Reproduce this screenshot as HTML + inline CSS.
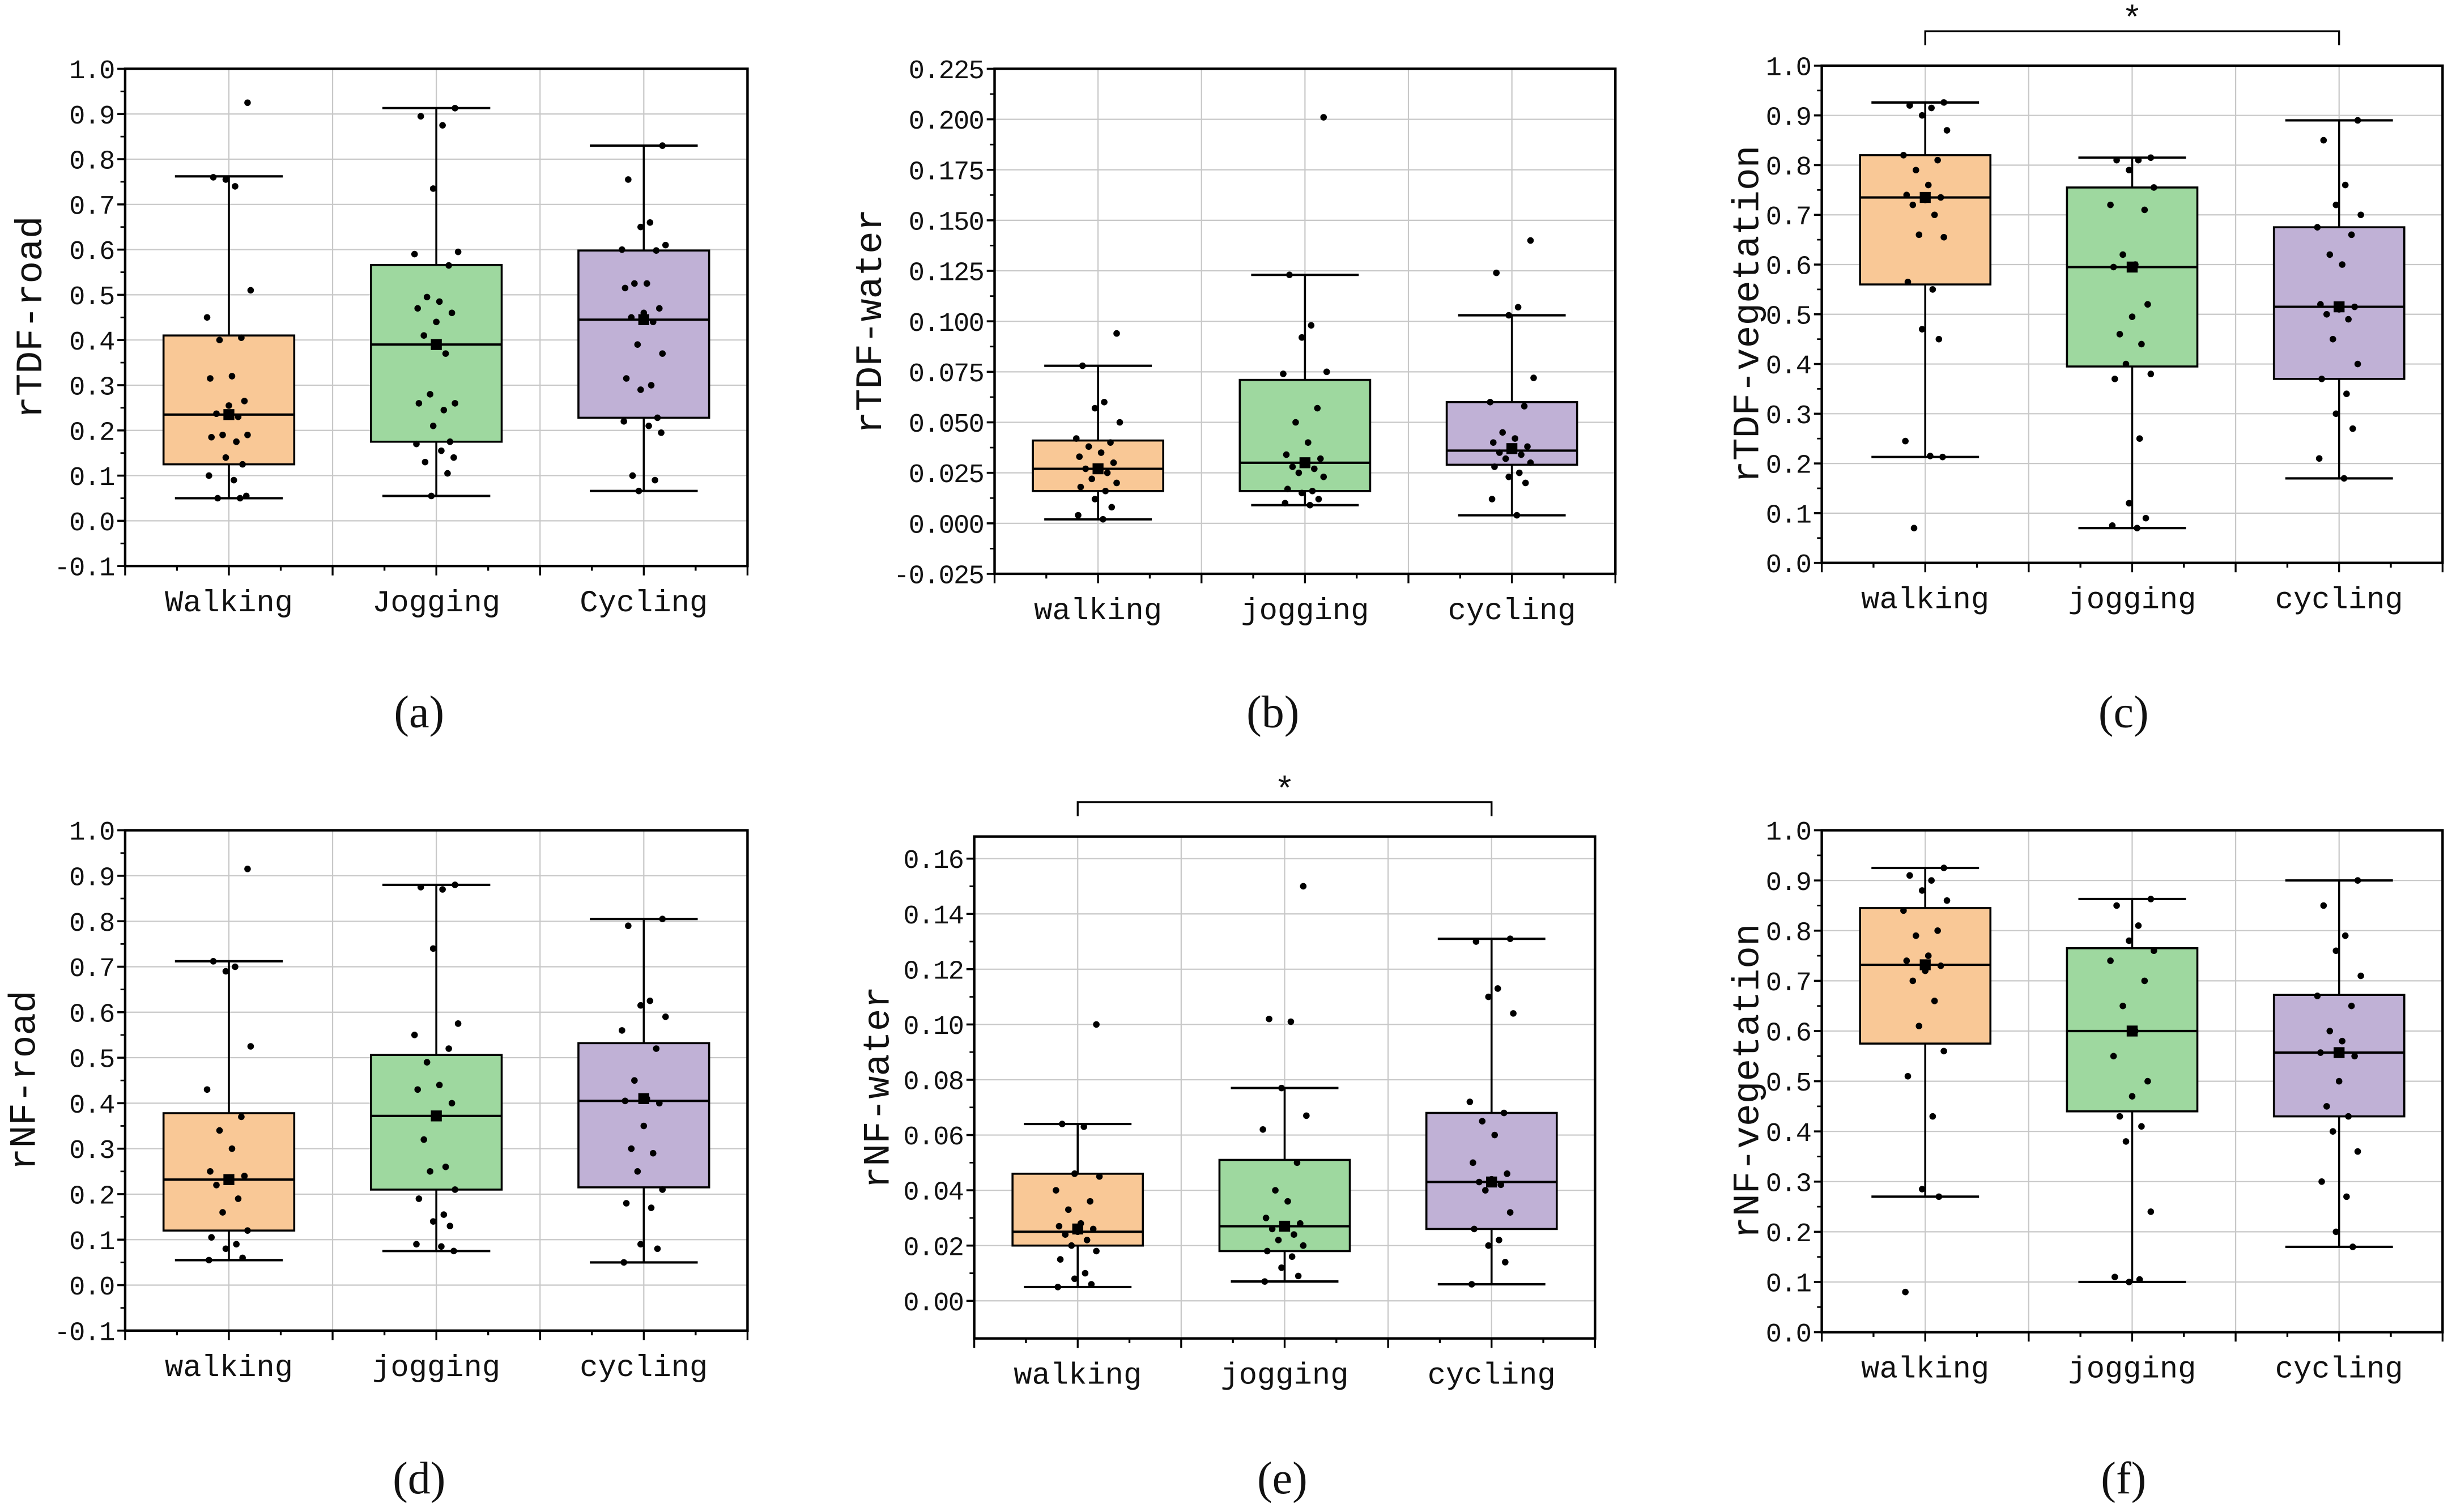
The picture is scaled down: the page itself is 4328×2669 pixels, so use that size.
<!DOCTYPE html>
<html><head><meta charset="utf-8">
<style>
html,body{margin:0;padding:0;background:#fff;}
svg{display:block;}
text{fill:#111;}
</style></head>
<body>
<svg id="fig" xmlns="http://www.w3.org/2000/svg" width="4328" height="2669" viewBox="0 0 1568 967"></svg>
<script>
// ---------- data ----------
const panelIds = ['a','b','c','d','e','f'];
const yTitles = ['rTDF-road','rTDF-water','rTDF-vegetation','rNF-road','rNF-water','rNF-vegetation'];
const catsA = ['Walking','Jogging','Cycling'];
const catsB = ['walking','jogging','cycling'];
// per panel: [lowWhisker, q1, median, q3, highWhisker, mean] for each group
const statsA = [[0.05,0.125,0.235,0.41,0.762,0.235],[0.055,0.175,0.39,0.566,0.913,0.39],[0.066,0.228,0.445,0.598,0.83,0.445]];
const statsB = [[0.002,0.016,0.027,0.041,0.078,0.027],[0.009,0.016,0.03,0.071,0.123,0.03],[0.004,0.029,0.036,0.06,0.103,0.037]];
const statsC = [[0.213,0.56,0.735,0.82,0.926,0.735],[0.07,0.395,0.595,0.755,0.815,0.595],[0.17,0.37,0.515,0.675,0.89,0.515]];
const statsD = [[0.055,0.12,0.232,0.378,0.712,0.232],[0.075,0.21,0.372,0.506,0.88,0.372],[0.05,0.215,0.405,0.532,0.805,0.41]];
const statsE = [[0.005,0.02,0.025,0.046,0.064,0.026],[0.007,0.018,0.027,0.051,0.077,0.027],[0.006,0.026,0.043,0.068,0.131,0.043]];
const statsF = [[0.27,0.575,0.732,0.845,0.925,0.732],[0.1,0.44,0.6,0.765,0.863,0.6],[0.17,0.43,0.557,0.672,0.9,0.557]];
const ptsA = [
 [0.925,0.76,0.74,0.755,0.51,0.45,0.405,0.40,0.32,0.315,0.265,0.255,0.237,0.23,0.19,0.19,0.185,0.175,0.14,0.125,0.10,0.09,0.055,0.05,0.05],
 [0.913,0.895,0.875,0.735,0.595,0.59,0.565,0.495,0.485,0.47,0.46,0.44,0.41,0.37,0.28,0.26,0.26,0.245,0.21,0.175,0.17,0.155,0.14,0.13,0.105,0.055],
 [0.83,0.755,0.66,0.65,0.61,0.6,0.598,0.525,0.525,0.515,0.47,0.46,0.45,0.44,0.39,0.37,0.315,0.3,0.29,0.228,0.22,0.21,0.195,0.1,0.09,0.066]];
const ptsB = [
 [0.094,0.078,0.06,0.057,0.05,0.042,0.04,0.038,0.035,0.033,0.03,0.028,0.027,0.025,0.022,0.02,0.018,0.016,0.012,0.008,0.004,0.002],
 [0.201,0.123,0.098,0.092,0.075,0.074,0.057,0.05,0.04,0.034,0.032,0.03,0.028,0.027,0.025,0.023,0.017,0.016,0.015,0.012,0.01,0.009],
 [0.14,0.124,0.107,0.103,0.072,0.06,0.058,0.045,0.042,0.04,0.038,0.036,0.035,0.034,0.032,0.03,0.028,0.025,0.023,0.02,0.012,0.004]];
const ptsC = [
 [0.926,0.92,0.915,0.9,0.87,0.82,0.81,0.79,0.76,0.74,0.735,0.73,0.72,0.70,0.66,0.655,0.565,0.55,0.47,0.45,0.245,0.215,0.213,0.07],
 [0.815,0.81,0.81,0.79,0.755,0.72,0.71,0.62,0.6,0.595,0.52,0.495,0.46,0.44,0.40,0.38,0.37,0.25,0.12,0.09,0.075,0.07],
 [0.89,0.85,0.76,0.72,0.7,0.675,0.66,0.62,0.6,0.52,0.515,0.51,0.5,0.49,0.45,0.4,0.37,0.34,0.3,0.27,0.21,0.17]];
const ptsD = [
 [0.915,0.712,0.70,0.69,0.525,0.43,0.37,0.34,0.30,0.25,0.24,0.232,0.22,0.19,0.16,0.12,0.105,0.09,0.08,0.06,0.055],
 [0.88,0.875,0.87,0.74,0.575,0.55,0.52,0.49,0.44,0.43,0.40,0.372,0.32,0.26,0.25,0.21,0.19,0.155,0.14,0.13,0.09,0.085,0.075],
 [0.805,0.79,0.625,0.615,0.59,0.56,0.52,0.45,0.41,0.405,0.40,0.35,0.30,0.29,0.25,0.21,0.18,0.17,0.09,0.08,0.05]];
const ptsE = [
 [0.1,0.064,0.063,0.046,0.045,0.04,0.036,0.033,0.028,0.027,0.026,0.025,0.024,0.022,0.02,0.018,0.015,0.01,0.008,0.006,0.005],
 [0.15,0.102,0.101,0.077,0.067,0.062,0.05,0.04,0.036,0.03,0.028,0.027,0.026,0.024,0.022,0.02,0.018,0.016,0.012,0.009,0.007],
 [0.131,0.13,0.113,0.11,0.104,0.072,0.068,0.065,0.06,0.05,0.046,0.044,0.043,0.042,0.04,0.032,0.026,0.022,0.02,0.014,0.006]];
const ptsF = [
 [0.925,0.91,0.9,0.88,0.86,0.84,0.8,0.79,0.75,0.74,0.73,0.72,0.7,0.66,0.61,0.56,0.51,0.43,0.285,0.27,0.08],
 [0.863,0.85,0.81,0.78,0.76,0.74,0.7,0.65,0.6,0.55,0.5,0.47,0.43,0.41,0.38,0.24,0.11,0.105,0.10],
 [0.9,0.85,0.79,0.76,0.71,0.67,0.65,0.6,0.58,0.557,0.55,0.5,0.45,0.43,0.4,0.36,0.3,0.27,0.2,0.17]];
const allStats = [statsA,statsB,statsC,statsD,statsE,statsF];
const allPts = [ptsA,ptsB,ptsC,ptsD,ptsE,ptsF];

// ---------- layout (non-data) ----------
const layout = [
 {L:80,R:478,T:44,B:362,min:-0.1,max:1.0,t0:-0.1,t1:1.0,step:0.1,dec:1,tx:20,lx:268,ly:455,cats:catsA},
 {L:636,R:1033,T:44,B:367,min:-0.025,max:0.225,t0:-0.025,t1:0.225,step:0.025,dec:3,tx:557,lx:814,ly:455,cats:catsB},
 {L:1165,R:1562,T:42,B:360,min:0,max:1.0,t0:0,t1:1.0,step:0.1,dec:1,tx:1118,lx:1358,ly:455,cats:catsB,sig:true},
 {L:80,R:478,T:531,B:851,min:-0.1,max:1.0,t0:-0.1,t1:1.0,step:0.1,dec:1,tx:16,lx:268,ly:945,cats:catsB},
 {L:623,R:1020,T:535,B:856,min:-0.0136,max:0.168,t0:0,t1:0.16,step:0.02,dec:2,tx:562,lx:820,ly:945,cats:catsB,sig:true},
 {L:1165,R:1562,T:531,B:852,min:0,max:1.0,t0:0,t1:1.0,step:0.1,dec:1,tx:1118,lx:1358,ly:945,cats:catsB}];
const fills = ['#F9C896','#9ED89F','#C0B1D6'];
const jitter = [0.3,-0.25,0.1,-0.05,0.35,-0.35,0.2,-0.15,0.05,-0.3,0.25,0.0,-0.2,0.15,-0.1,0.3,-0.28,0.12,-0.05,0.22,-0.32,0.08,0.28,-0.18,0.18,-0.08];

const NS='http://www.w3.org/2000/svg';
const svg=document.getElementById('fig');
function mk(tag,attrs,parent){const e=document.createElementNS(NS,tag);for(const k in attrs)e.setAttribute(k,attrs[k]);(parent||svg).appendChild(e);return e;}

layout.forEach((p,pi)=>{
  const g=mk('g',{});
  
  
  const y=v=>p.B-(v-p.min)/(p.max-p.min)*(p.B-p.T);
  const cw=(p.R-p.L)/3;
  const x=i=>p.L+cw*(i+0.5);
  const n=Math.round((p.t1-p.t0)/p.step);
  for(let k=0;k<=n;k++){const v=p.t0+k*p.step;const yy=y(v);
    mk('line',{x1:p.L,x2:p.R,y1:yy,y2:yy,stroke:'#c8c8c8','stroke-width':0.8},g);}
  for(let k=1;k<6;k++){const xx=p.L+cw*k/2;mk('line',{x1:xx,x2:xx,y1:p.T,y2:p.B,stroke:'#c8c8c8','stroke-width':0.8},g);}
  for(let k=0;k<=n;k++){const v=p.t0+k*p.step;const yy=y(v);
    mk('line',{x1:p.L-5,x2:p.L,y1:yy,y2:yy,stroke:'#000','stroke-width':1.3},g);
    if(k<n){const ym=y(v+p.step/2);mk('line',{x1:p.L-3,x2:p.L,y1:ym,y2:ym,stroke:'#000','stroke-width':1},g);}
    const t=mk('text',{x:p.L-7,y:yy+6,'text-anchor':'end','font-family':'"Liberation Mono",monospace','font-size':17,'letter-spacing':'-0.6'},g);
    t.textContent=(v<0?'-':'')+Math.abs(v).toFixed(p.dec);
    
    
  }
  for(let k=0;k<=12;k++){const xx=p.L+cw*k/4;const major=k%2===0;
    mk('line',{x1:xx,x2:xx,y1:p.B,y2:p.B+(major?6:3),stroke:'#000','stroke-width':1.2},g);}
  const st=allStats[pi], pts=allPts[pi];
  st.forEach((s,i)=>{
    const cx=x(i), bw=cw*0.63, cap=cw*0.26;
    const bg=mk('g',{},g);
    
    
    mk('line',{x1:cx,x2:cx,y1:y(s[0]),y2:y(s[4]),stroke:'#000','stroke-width':1.3},bg);
    mk('line',{x1:cx-cap,x2:cx+cap,y1:y(s[0]),y2:y(s[0]),stroke:'#000','stroke-width':1.5},bg);
    mk('line',{x1:cx-cap,x2:cx+cap,y1:y(s[4]),y2:y(s[4]),stroke:'#000','stroke-width':1.5},bg);
    mk('rect',{x:cx-bw/2,y:y(s[3]),width:bw,height:y(s[1])-y(s[3]),fill:fills[i],stroke:'#000','stroke-width':1.3},bg);
    mk('line',{x1:cx-bw/2,x2:cx+bw/2,y1:y(s[2]),y2:y(s[2]),stroke:'#000','stroke-width':1.5},bg);
    pts[i].forEach((v,j)=>{
      const c=mk('circle',{cx:cx+jitter[j%jitter.length]*cw*0.3,cy:y(v),r:2.1,fill:'#000'},bg);
      
      
    });
    const m=mk('rect',{x:cx-3.5,y:y(s[5])-3.5,width:7,height:7,fill:'#000'},bg);
    
    
    const cl=mk('text',{x:cx,y:p.B+29,'text-anchor':'middle','font-family':'"Liberation Mono",monospace','font-size':19.5},g);
    cl.textContent=p.cats[i];
    
    
  });
  mk('rect',{x:p.L,y:p.T,width:p.R-p.L,height:p.B-p.T,fill:'none',stroke:'#000','stroke-width':1.6},g);
  const yt=mk('text',{x:p.tx,y:(p.T+p.B)/2,'text-anchor':'middle','font-family':'"Liberation Mono",monospace','font-size':24,transform:'rotate(-90 '+p.tx+' '+((p.T+p.B)/2)+')','dominant-baseline':'central'},g);
  yt.textContent=yTitles[pi];
  
  
  const pl=mk('text',{x:p.lx,y:p.ly+10,'text-anchor':'middle','font-family':'"Liberation Serif",serif','font-size':29},g);
  pl.textContent='('+panelIds[pi]+')';
  
  
  if(p.sig){
    const by=p.T-22, x1=x(0), x2=x(2);
    const sg=mk('g',{},g);
    
    
    mk('path',{d:`M${x1},${by+9}V${by}H${x2}V${by+9}`,fill:'none',stroke:'#000','stroke-width':1.2},sg);
    const s=mk('text',{x:(x1+x2)/2,y:by-2,'text-anchor':'middle','font-family':'"Liberation Sans",sans-serif','font-size':22},sg);
    s.textContent='*';
  }
});
</script>
</body></html>
